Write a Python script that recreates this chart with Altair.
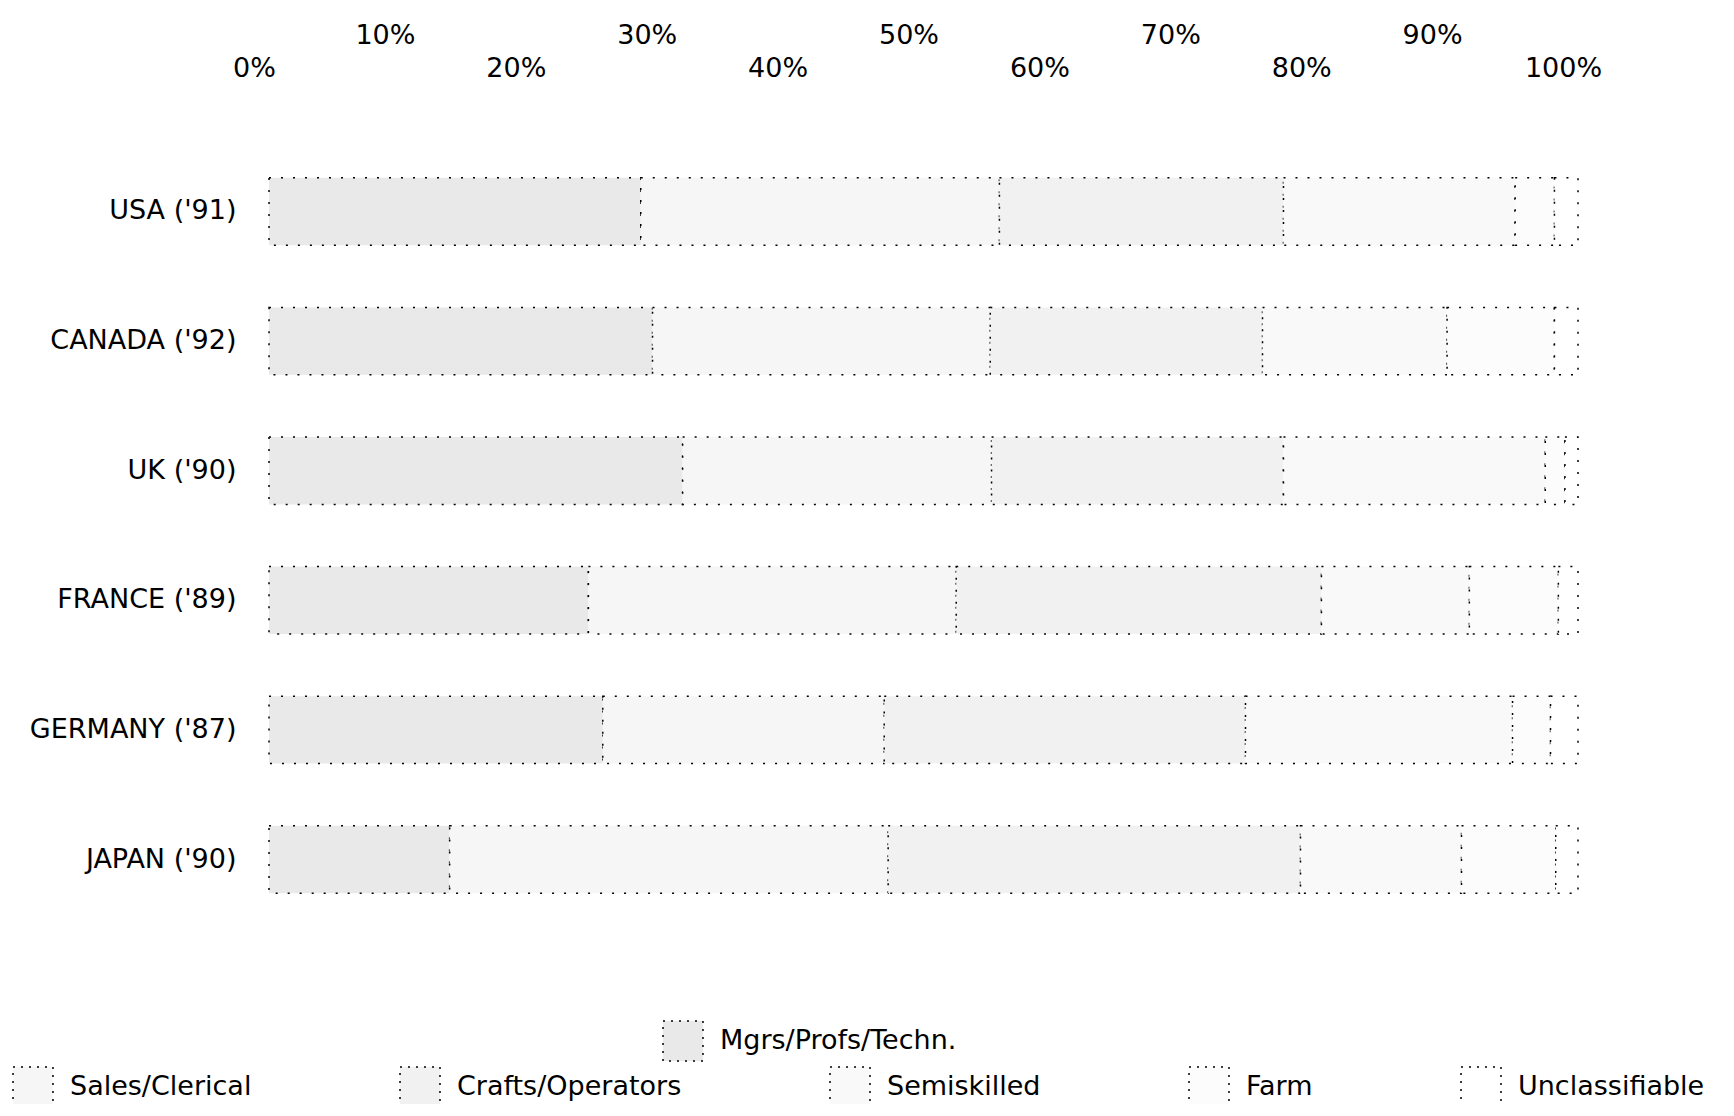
import altair as alt
import pandas as pd

countries = ["USA ('91)", "CANADA ('92)", "UK ('90)", "FRANCE ('89)", "GERMANY ('87)", "JAPAN ('90)"]
occupations = ["Mgrs/Profs/Techn.", "Sales/Clerical", "Crafts/Operators",
               "Semiskilled", "Farm", "Unclassifiable"]

mgrs = [28.4, 29.3, 31.6, 24.4, 25.5, 13.8]
sales = [27.4, 25.8, 23.6, 28.1, 21.5, 33.5]
crafts = [21.7, 20.8, 22.3, 27.9, 27.6, 31.5]
semi = [17.7, 14.1, 20.0, 11.3, 20.4, 12.3]
farm = [3.0, 8.2, 1.5, 6.8, 2.9, 7.2]
unclass = [1.8, 1.8, 1.0, 1.5, 2.1, 1.7]

even_ticks = [0, 20, 40, 60, 80, 100]
odd_ticks = [10, 30, 50, 70, 90]

fills = ["#e9e9e9", "#f6f6f6", "#f1f1f1", "#f9f9f9", "#fcfcfc", "#ffffff"]

shares = [mgrs, sales, crafts, semi, farm, unclass]
rows = []
for i, c in enumerate(countries):
    start = 0.0
    for occ, vals in zip(occupations, shares):
        v = vals[i]
        rows.append({"country": c, "occupation": occ, "value": v,
                     "start": round(start, 3), "end": round(start + v, 3)})
        start += v
df = pd.DataFrame(rows)

FONT = "DejaVu Sans"
FS = 27

y_enc = alt.Y("country:N", sort=countries,
              scale=alt.Scale(paddingInner=0.48, paddingOuter=0.5),
              axis=alt.Axis(title=None, domain=False, ticks=False, labelFontSize=FS,
                            labelFont=FONT, labelColor="black", labelPadding=33,
                            labelLimit=0))

def x_axis(values, pad):
    return alt.Axis(orient="top", values=values, labelExpr="datum.value + '%'",
                    title=None, grid=False, domain=False, ticks=False, tickSize=0,
                    labelFontSize=FS, labelFont=FONT, labelColor="black",
                    labelPadding=pad, labelOffset=-15, labelFlush=False,
                    labelOverlap=False, labelLimit=0)

bar_style = dict(stroke="black", strokeWidth=1.5, strokeDash=[2, 10])

legend_common = dict(title=None, orient="none", symbolType="square", symbolSize=1600,
                     symbolStrokeColor="black", symbolStrokeWidth=1.5, symbolDash=[2, 6],
                     labelFontSize=FS, labelFont=FONT, labelColor="black", labelOffset=16,
                     labelLimit=0, padding=0)

base = alt.Chart(df)

layer_mgrs = base.transform_filter(alt.datum.occupation == occupations[0]).mark_bar(**bar_style).encode(
    x=alt.X("start:Q", scale=alt.Scale(domain=[0, 100], nice=False), axis=x_axis(even_ticks, 31)),
    x2="end:Q",
    y=y_enc,
    fill=alt.Fill("occupation:N",
                  scale=alt.Scale(domain=occupations[:1], range=fills[:1]),
                  legend=alt.Legend(legendX=393, legendY=907, **legend_common)),
)

layer_rest = base.transform_filter(alt.datum.occupation != occupations[0]).mark_bar(**bar_style).encode(
    x=alt.X("start:Q", scale=alt.Scale(domain=[0, 100], nice=False), axis=x_axis(odd_ticks, 64)),
    x2="end:Q",
    y=y_enc,
    fill=alt.Fill("occupation:N",
                  scale=alt.Scale(domain=occupations[1:], range=fills[1:]),
                  legend=alt.Legend(legendX=-257, legendY=953, direction="horizontal",
                                    columns=5, columnPadding=145, **legend_common)),
)

chart = (
    alt.layer(layer_mgrs, layer_rest)
    .resolve_scale(fill="independent")
    .resolve_axis(x="independent")
    .properties(width=1309, height=845,
                autosize=alt.AutoSizeParams(type="none"),
                padding={"left": 261, "top": 105, "right": 147, "bottom": 146})
    .configure(font=FONT, background="white")
    .configure_view(strokeWidth=0, stroke="transparent")
)

chart.save("out.html", embed_options={"renderer": "svg", "actions": False})
